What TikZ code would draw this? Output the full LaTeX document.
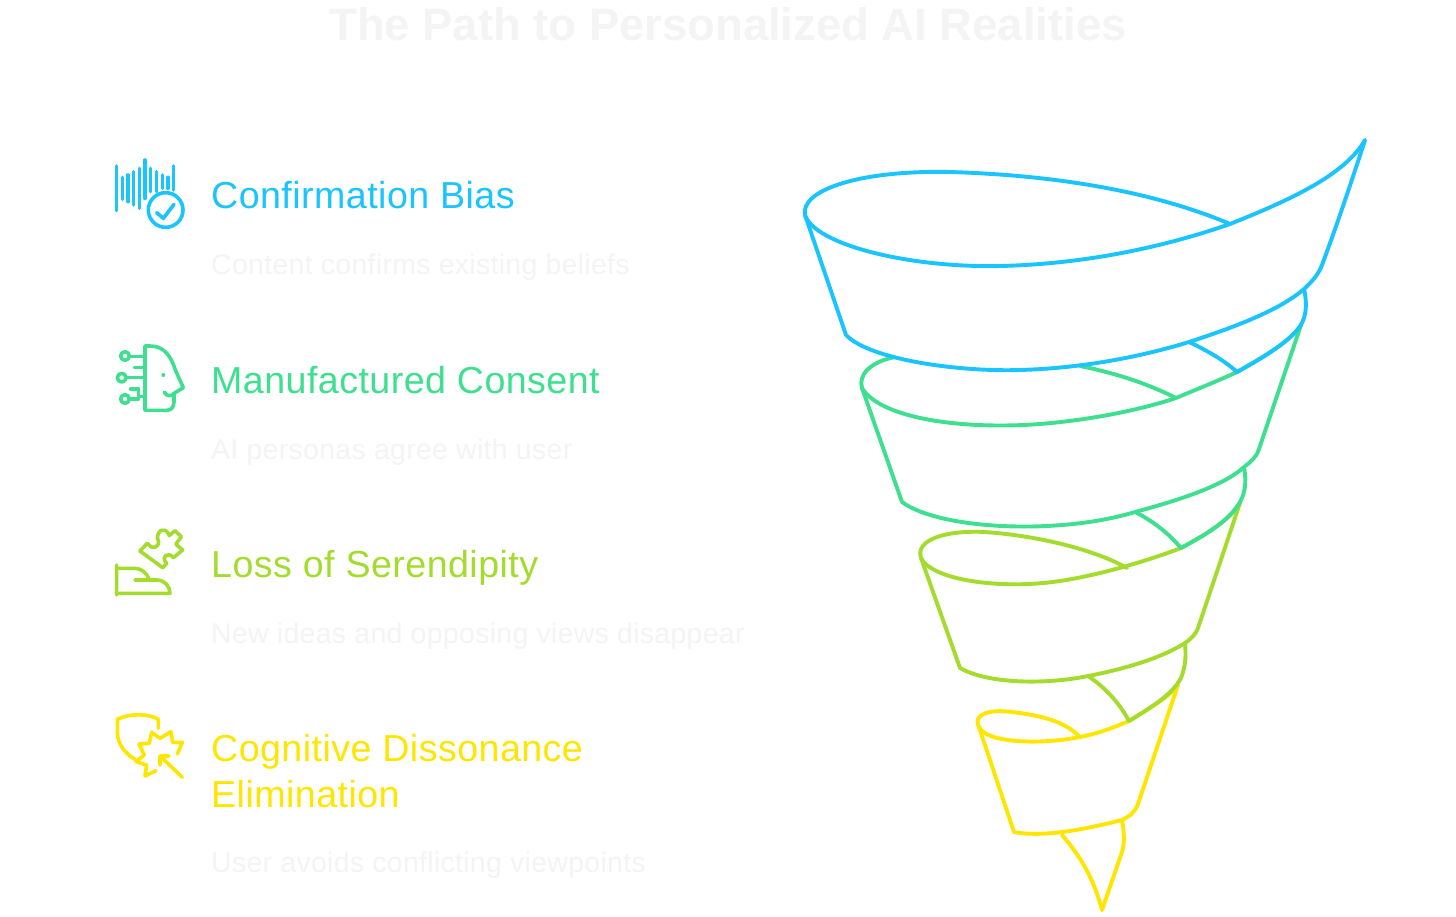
\documentclass[tikz,border=0pt]{standalone}
\usepackage{fontspec}
\setmainfont{Liberation Sans}
\newfontfamily\headf[LetterSpace=1.2]{Liberation Sans}
\newfontfamily\subf[LetterSpace=1.0]{Liberation Sans}
\definecolor{cblue}{HTML}{1AC4FF}
\definecolor{cgreen}{HTML}{3EE08F}
\definecolor{cyg}{HTML}{A4DC2E}
\definecolor{cyel}{HTML}{FFE600}
\definecolor{ghost}{HTML}{F4F4F4}
\tikzset{
  fun/.style={line width=3.9pt,line cap=round,line join=round},
  ico/.style={line width=3.6pt,line cap=round,line join=round},
  head/.style={anchor=base west,inner sep=0pt,font=\headf\fontsize{37.6}{46}\selectfont,align=left},
  sub/.style={anchor=base west,inner sep=0pt,text=ghost,font=\subf\fontsize{28.5}{32}\selectfont},
}
\begin{document}
\begin{tikzpicture}[x=1pt,y=-1pt]
\useasboundingbox (0,0) rectangle (1456,917);
\fill[white] (0,0) rectangle (1456,917);
\node[anchor=base,inner sep=0pt,text=ghost,font=\bfseries\fontsize{45.4}{50}\selectfont] (title) at (728,41) {The Path to Personalized AI Realities};
\node[head,text=cblue] (h1) at (211,209) {Confirmation Bias};
\node[sub] (s1) at (211,275) {Content confirms existing beliefs};
\node[head,text=cgreen] (h2) at (211,393) {Manufactured Consent};
\node[sub] (s2) at (211,459) {AI personas agree with user};
\node[head,text=cyg] (h3) at (211,577) {Loss of Serendipity};
\node[sub] (s3) at (211,643) {New ideas and opposing views disappear};
\node[head,text=cyel] (h4) at (211,761) {Cognitive Dissonance};
\node[head,text=cyel] (h4b) at (211,807) {Elimination};
\node[sub] (s4) at (211,872) {User avoids conflicting viewpoints};
% funnel: yellow
\begin{scope}[fun,cyel]
\draw (1102,910) .. controls (1094,880) and (1082,858) .. (1062,835);
\draw (1102,910) -- (1122,852) .. controls (1125,842) and (1124,832) .. (1122,820);
\draw (979,727) -- (1014,832) .. controls (1045,838) and (1090,828) .. (1122,820) .. controls (1130,816) and (1135,812) .. (1138,804) -- (1178,685);
\draw (979,727) .. controls (972,714) and (990,709) .. (1012,712) .. controls (1045,716) and (1065,722) .. (1080,737);
\draw (979,727) .. controls (986,743) and (1040,745) .. (1080,737) .. controls (1100,733) and (1115,727) .. (1129,721);
\draw (1129,721) .. controls (1150,708) and (1168,698) .. (1178,685);
\end{scope}
% funnel: yellow-green
\begin{scope}[fun,cyg]
\draw (1088,676) .. controls (1106,688) and (1120,704) .. (1129,721) .. controls (1150,708) and (1172,695) .. (1181,678) .. controls (1186,665) and (1186,655) .. (1185,643);
\draw (921,558) -- (960,668) .. controls (990,685) and (1050,684) .. (1088,676) .. controls (1130,668) and (1165,656) .. (1185,643) .. controls (1192,638) and (1196,634) .. (1198,628) -- (1240,503);
\draw (921,558) .. controls (915,540) and (945,530) .. (985,532) .. controls (1040,536) and (1095,550) .. (1127,568);
\draw (921,558) .. controls (932,580) and (1000,590) .. (1060,581) .. controls (1100,575) and (1150,560) .. (1181,548) .. controls (1205,535) and (1230,520) .. (1240,503);
\end{scope}
% funnel: green
\begin{scope}[fun,cgreen]
\draw (1135,512) .. controls (1155,522) and (1170,535) .. (1181,548) .. controls (1205,535) and (1232,520) .. (1242,498) .. controls (1246,488) and (1246,478) .. (1244,467);
\draw (862,388) -- (902,502) .. controls (940,530) and (1060,535) .. (1135,512) .. controls (1180,500) and (1225,485) .. (1244,467) .. controls (1252,461) and (1257,456) .. (1259,449) -- (1301,325);
\draw (895,357) .. controls (870,362) and (858,375) .. (862,388);
\draw (1080,366) .. controls (1120,374) and (1150,385) .. (1176,398);
\draw (862,388) .. controls (880,418) and (960,430) .. (1040,424) .. controls (1090,420) and (1140,410) .. (1176,398) .. controls (1195,390) and (1220,380) .. (1237,372) .. controls (1262,358) and (1292,340) .. (1301,325);
\end{scope}
% funnel: blue
\begin{scope}[fun,cblue]
\draw (1189,342) .. controls (1208,351) and (1225,361) .. (1237,372) .. controls (1262,358) and (1298,338) .. (1304,318) .. controls (1307,308) and (1306,298) .. (1304,289);
\draw (805,215) -- (846,335) .. controls (870,360) and (960,372) .. (1020,370) .. controls (1090,368) and (1150,354) .. (1189,342) .. controls (1235,327) and (1280,310) .. (1304,289) .. controls (1313,281) and (1319,273) .. (1322,265) .. controls (1338,222) and (1352,180) .. (1365,140);
\draw (805,215) .. controls (800,190) and (860,170) .. (950,172) .. controls (1050,175) and (1150,190) .. (1230,224);
\draw (805,215) .. controls (815,245) and (910,268) .. (1000,266) .. controls (1090,264) and (1170,245) .. (1230,224) .. controls (1290,200) and (1345,175) .. (1365,140);
\end{scope}
% icon 1
\begin{scope}[ico,cblue,shift={(100,150)},scale=1/3]
\draw (50,48)--(50,182) (67,82)--(67,148) (84,75)--(84,155) (101,65)--(101,165) (118,55)--(118,175) (135,30)--(135,145) (152,55)--(152,125) (170,65)--(170,125) (187,75)--(187,115) (204,82)--(204,115) (221,48)--(221,120);
\draw (197,180) circle (52);
\draw (170,188)--(190,205)--(222,163);
\end{scope}
% icon 2
\begin{scope}[ico,cgreen,shift={(100,335)},scale=1/3]
\draw (135,33) -- (135,226) -- (200,226) .. controls (215,226) and (222,215) .. (222,200) -- (222,175) -- (250,158) -- (226,105) .. controls (212,60) and (190,33) .. (150,33) -- cycle;
\draw (75,63) circle (13) (65,128) circle (13) (75,192) circle (13);
\draw (88,65)--(135,65) (103,97)--(135,97) (78,128)--(135,128) (92,162)--(115,162)--(115,185)--(135,185) (88,192)--(115,192);
\fill (190,120) circle (6);
\draw (193,172) .. controls (200,185) and (215,185) .. (222,175);
\end{scope}
% icon 3
\begin{scope}[ico,cyg,shift={(100,515)},scale=1/3]
\draw (50,150)--(50,240) (50,160)--(105,160) .. controls (125,160) and (140,175) .. (147,192);
\draw (105,195)--(170,195) .. controls (195,195) and (210,215) .. (210,235) -- (50,235);
\draw (120,108) -- (142,85) -- (155,97) .. controls (172,100) and (182,85) .. (172,68) .. controls (172,48) and (190,35) .. (205,55) -- (208,62) -- (225,47) -- (244,65) .. controls (235,80) and (228,82) .. (228,88) -- (248,105) -- (220,128) .. controls (205,108) and (180,125) .. (200,145) -- (188,158) -- cycle;
\end{scope}
% icon 4
\begin{scope}[ico,cyel,shift={(100,700)},scale=1/3]
\draw (175,85) -- (175,58) .. controls (150,42) and (90,38) .. (52,58) -- (52,100) .. controls (55,135) and (75,160) .. (105,178);
\draw (232,162) -- (247,127) -- (218,127) -- (213,95) -- (180,115) -- (155,97) -- (148,130) -- (117,132) -- (133,165) -- (108,185) -- (140,195) -- (135,228) -- (168,212);
\draw (247,232) -- (180,168) (180,195) -- (180,168) -- (207,168);
\end{scope}
\end{tikzpicture}
\end{document}
